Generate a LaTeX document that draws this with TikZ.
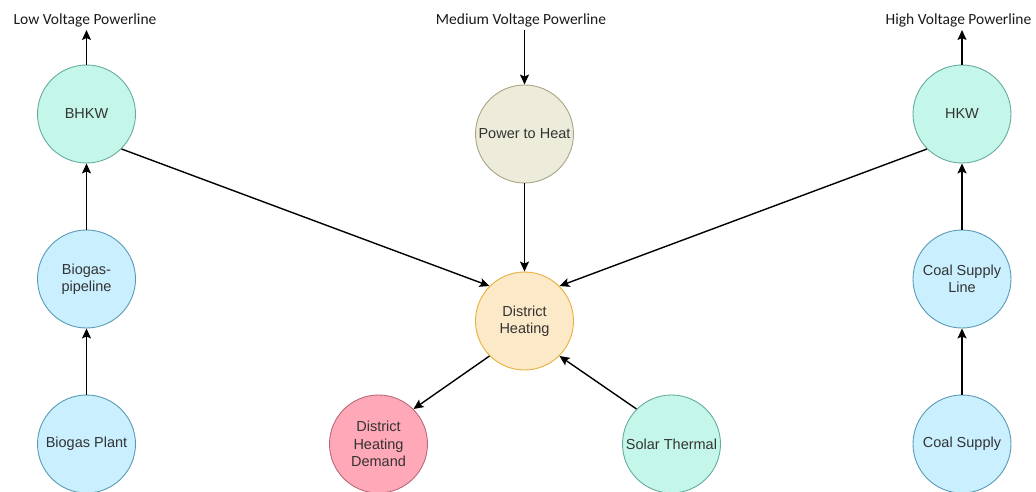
\documentclass[tikz,border=0pt]{standalone}
\usepackage{fontspec}
\setmainfont{Liberation Sans}
\newfontfamily\labelfont{Carlito}
\usetikzlibrary{arrows.meta}
\definecolor{mintfill}{HTML}{C4F7EA}
\definecolor{mintdraw}{HTML}{67AB9F}
\definecolor{bluefill}{HTML}{CAEFFF}
\definecolor{bluedraw}{HTML}{5A9AB5}
\definecolor{beigefill}{HTML}{EDEBD9}
\definecolor{beigedraw}{HTML}{A8A583}
\definecolor{orangefill}{HTML}{FCE9C8}
\definecolor{orangedraw}{HTML}{E8B03C}
\definecolor{pinkfill}{HTML}{FFA8B8}
\definecolor{pinkdraw}{HTML}{B86A7A}
\definecolor{txt}{HTML}{333333}
\tikzset{
  circ/.style={circle, minimum size=98pt, inner sep=0pt, line width=0.9pt, align=center,
    text=txt, font=\fontsize{14.5}{17.5}\selectfont},
  mint/.style={circ, fill=mintfill, draw=mintdraw},
  blue/.style={circ, fill=bluefill, draw=bluedraw},
  beige/.style={circ, fill=beigefill, draw=beigedraw},
  orange/.style={circ, fill=orangefill, draw=orangedraw},
  pink/.style={circ, fill=pinkfill, draw=pinkdraw},
  plabel/.style={anchor=base, inner sep=0pt, text=black!90, font=\labelfont\fontsize{15.5}{18}\selectfont},
  conn/.style={line width=1.4pt, -{Stealth[length=10pt,width=9pt,inset=2pt]}}
}
\begin{document}
\begin{tikzpicture}[x=1pt,y=-1pt]
\useasboundingbox (0,0) rectangle (1036,492);
\node[mint] (bhkw) at (86.5,114) {BHKW};
\node[blue] (pipe) at (86.5,279) {Biogas-\\pipeline};
\node[blue] (plant) at (86.5,444) {Biogas Plant};
\node[beige] (p2h) at (524.5,134) {Power to Heat};
\node[orange] (dh) at (524.5,321) {District\\Heating};
\node[pink] (dem) at (378.5,444) {District\\Heating\\Demand};
\node[mint] (solar) at (671.5,444) {Solar Thermal};
\node[mint] (hkw) at (962,114) {HKW};
\node[blue] (cline) at (962,279) {Coal Supply\\Line};
\node[blue] (coal) at (962,444) {Coal Supply};

\node[plabel] (lv) at (85,24.5) {Low Voltage Powerline};
\node[plabel] (mv) at (521,24.5) {Medium Voltage Powerline};
\node[plabel] (hv) at (958.5,24.5) {High Voltage Powerline};
\coordinate (lvend) at (86.5,30);
\coordinate (mvstart) at (524.5,30);
\coordinate (hvend) at (962,30);

\draw[conn] (bhkw.north) -- (lvend);
\draw[conn] (hkw.north) -- (hvend);
\draw[conn] (mvstart) -- (p2h.north);
\draw[conn] (pipe.north) -- (bhkw.south);
\draw[conn] (plant.north) -- (pipe.south);
\draw[conn] (cline.north) -- (hkw.south);
\draw[conn] (coal.north) -- (cline.south);
\draw[conn] (p2h.south) -- (dh.north);
\draw[conn] (bhkw.-45) -- (dh.135);
\draw[conn] (hkw.225) -- (dh.45);
\draw[conn] (dh.225) -- (dem.45);
\draw[conn] (solar.135) -- (dh.-45);
\end{tikzpicture}
\end{document}
